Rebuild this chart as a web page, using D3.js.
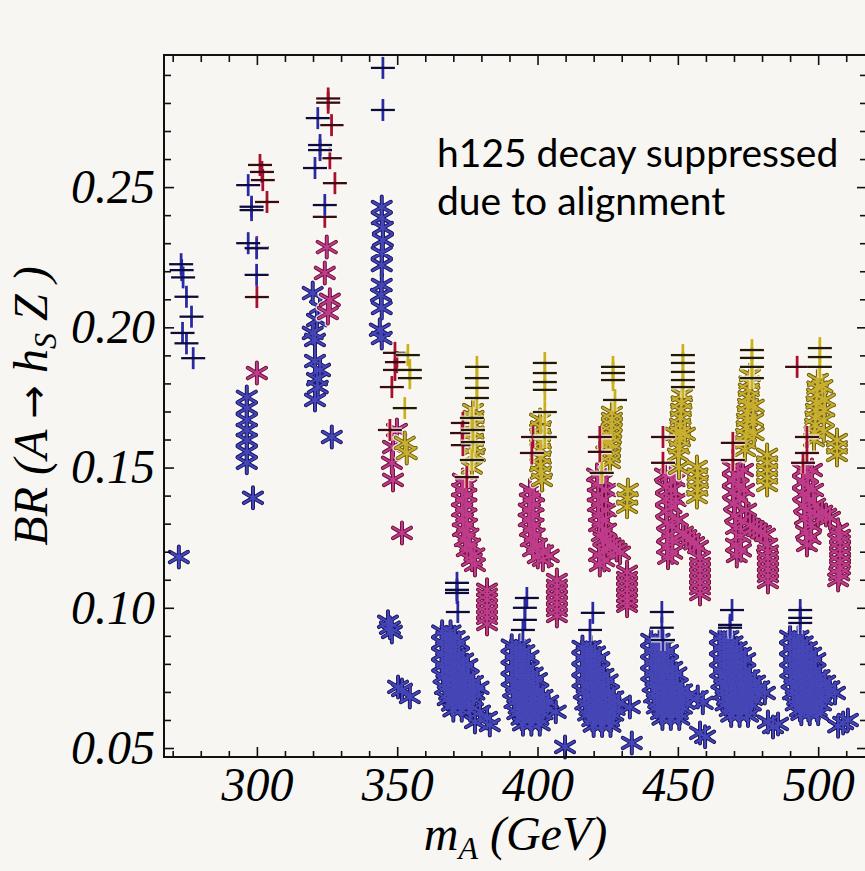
<!DOCTYPE html>
<meta charset="utf-8">
<style>
  body{margin:0;background:#f7f6f2;}
  svg{display:block;}
  .lbl{font-family:"Liberation Serif",serif;font-style:italic;fill:#000;}
</style>
<svg width="865" height="871"></svg>
<script src="https://cdn.jsdelivr.net/npm/d3@7"></script>
<script>
// ---- data: [mA (GeV), BR(A -> hs Z)] ----
var xMajor=[300,350,400,450,500];
var xMinor=[270,280,290,310,320,330,340,360,370,380,390,410,420,430,440,460,470,480,490,510];
var yMajor=[0.05,0.10,0.15,0.20,0.25];
var yMinor=[0.06,0.07,0.08,0.09,0.11,0.12,0.13,0.14,0.16,0.17,0.18,0.19,0.21,0.22,0.23,0.24,0.26,0.27,0.28,0.29];

var bluePlus=[
  [273.0,0.2225],[273.2,0.2204],[273.7,0.2178],[274.9,0.2109],[276.7,0.2038],[273.5,0.1980],[274.9,0.1943],[277.3,0.1890],
  [296.9,0.2507],[298.1,0.2430],[298.1,0.2418],[296.9,0.2300],[299.9,0.2282],[299.9,0.2187],
  [321.7,0.2746],[322.5,0.2650],[322.5,0.2632],[320.7,0.2568],[324.2,0.2436],
  [344.9,0.2925],[344.9,0.2775],
  [371.3,0.1089],[371.3,0.1064],[371.3,0.1053],[371.6,0.0985],
  [396.2,0.1035],[395.5,0.1000],[395.5,0.0957],[394.8,0.0921],
  [419.7,0.0982],[418.7,0.0921],
  [444.3,0.0985],[444.3,0.0929],[444.7,0.0885],
  [469.3,0.0992],[468.6,0.0939],[468.6,0.0929],
  [493.6,0.0992],[493.6,0.0964],[493.6,0.0946]
];
var redPlus=[
  [301.1,0.2579],[301.8,0.2554],[302.1,0.2525],[303.6,0.2447],[300.0,0.2286],[300.0,0.2108],
  [325.4,0.2816],[325.4,0.2801],[326.6,0.2721],[326.0,0.2603],[327.8,0.2514],[324.2,0.2394],
  [349.2,0.1909],[349.9,0.1876],[349.2,0.1848],[348.1,0.1787],[347.4,0.1634],
  [373.4,0.1659],[373.1,0.1623],[373.4,0.1580],[374.8,0.1466],
  [398.4,0.1609],[398.0,0.1552],
  [422.2,0.1609],[422.2,0.1556],
  [444.7,0.1609],[444.7,0.1517],
  [469.6,0.1588],[469.6,0.1527],
  [492.5,0.1859],[496.0,0.1609],[496.0,0.1552],[494.6,0.1517]
];
var yellowPlus=[
  [353.8,0.1901],[354.5,0.1848],[354.5,0.1819],[352.7,0.1712],
  [378.4,0.1859],[378.4,0.1819],[378.4,0.1784],[378.4,0.1748],[376.6,0.1677],[377.0,0.1634],[377.0,0.1591],[376.6,0.1527],
  [402.6,0.1873],[402.6,0.1837],[402.6,0.1805],[402.6,0.1777],[402.6,0.1698],[402.6,0.1609],
  [426.9,0.1859],[426.9,0.1837],[426.9,0.1812],[427.6,0.1741],[422.9,0.1481],
  [451.8,0.1901],[451.8,0.1873],[451.8,0.1841],[451.8,0.1812],[451.8,0.1787],
  [476.4,0.1919],[476.4,0.1891],[476.4,0.1859],[476.4,0.1819],
  [500.6,0.1926],[500.6,0.1894],[500.6,0.1859]
];
var yellowStar=[
  [352.7,0.1588],[353.4,0.1552],
  [377.0,0.1705],[377.3,0.1652],[377.0,0.1598],[377.7,0.1545],[376.6,0.1500],
  [377.2,0.1680],[377.2,0.1625],[377.3,0.1570],
  [400.9,0.1670],[400.9,0.1616],[400.9,0.1563],[400.9,0.1509],[401.6,0.1456],
  [401.2,0.1643],[401.2,0.1590],[401.2,0.1536],[401.2,0.1482],
  [426.5,0.1695],[426.5,0.1652],[426.2,0.1609],[425.8,0.1563],[425.8,0.1520],
  [426.5,0.1673],[426.3,0.1630],[426.0,0.1586],[425.8,0.1541],[424.5,0.1590],
  [432.2,0.1420],[432.0,0.1390],[431.9,0.1360],
  [451.5,0.1759],[451.1,0.1705],[450.8,0.1652],[450.8,0.1598],[450.0,0.1545],[450.4,0.1499],
  [451.3,0.1732],[451.0,0.1678],[450.8,0.1625],[450.5,0.1572],[449.2,0.1620],[452.5,0.1620],
  [456.8,0.1502],[457.0,0.1475],[457.2,0.1449],[457.0,0.1422],[456.8,0.1395],
  [475.7,0.1830],[475.3,0.1777],[475.0,0.1723],[474.6,0.1670],[474.3,0.1616],[473.9,0.1563],[476.8,0.1670],
  [475.5,0.1803],[475.2,0.1750],[474.8,0.1697],[474.5,0.1643],[474.1,0.1590],[477.0,0.1720],[477.0,0.1620],
  [481.8,0.1545],[481.8,0.1518],[481.8,0.1491],[481.8,0.1465],[481.8,0.1438],
  [499.9,0.1812],[499.6,0.1759],[499.2,0.1705],[498.9,0.1652],[498.5,0.1598],[502.4,0.1741],[502.0,0.1670],
  [499.7,0.1785],[499.4,0.1732],[499.0,0.1678],[498.7,0.1625],[501.5,0.1790],[502.2,0.1705],[502.0,0.1630],
  [506.7,0.1598],[506.7,0.1572],[506.7,0.1545]
];
var pinkStar=[
  [300.0,0.1837],
  [324.9,0.2286],[324.2,0.2194],[326.0,0.2098],[325.3,0.2051],
  [349.9,0.1634],[348.5,0.1573],[348.1,0.1517],[348.5,0.1456],[351.7,0.1267],
  // mA ~ 374
  [373.4,0.1456],[373.1,0.1420],[373.1,0.1385],[373.1,0.1349],[373.4,0.1313],[373.4,0.1278],[374.1,0.1242],[374.8,0.1206],[376.6,0.1171],[377.7,0.1153],
  [374.6,0.1438],[374.6,0.1402],[374.6,0.1367],[374.6,0.1331],[374.9,0.1295],[375.4,0.1260],[376.0,0.1224],[377.5,0.1190],
  [382.0,0.1064],[382.0,0.1046],[382.0,0.1028],[382.0,0.1006],[382.0,0.0985],[382.0,0.0964],[382.0,0.0942],
  // mA ~ 397
  [397.3,0.1420],[397.3,0.1385],[396.9,0.1349],[396.9,0.1313],[397.3,0.1278],[397.6,0.1242],[398.4,0.1206],[400.1,0.1181],[401.9,0.1171],
  [398.8,0.1402],[398.6,0.1367],[398.4,0.1331],[398.6,0.1295],[399.0,0.1260],[399.8,0.1224],[402.0,0.1200],[404.0,0.1185],
  [406.9,0.1099],[406.9,0.1078],[406.9,0.1057],[406.9,0.1036],[406.9,0.1014],[406.9,0.0992],[406.9,0.0971],
  // mA ~ 422
  [421.2,0.1474],[421.5,0.1438],[421.5,0.1402],[421.5,0.1367],[421.9,0.1331],[421.9,0.1295],[422.9,0.1260],[421.9,0.1189],[422.2,0.1153],
  [424.7,0.1235],[427.2,0.1217],[429.4,0.1196],[424.4,0.1420],[424.4,0.1349],[424.4,0.1278],
  [423.0,0.1456],[423.0,0.1385],[423.2,0.1313],[423.5,0.1245],[423.5,0.1205],[423.8,0.1170],[426.0,0.1226],[428.2,0.1206],
  [431.9,0.1128],[431.9,0.1106],[431.9,0.1085],[431.9,0.1064],[431.9,0.1042],[431.9,0.1024],[431.9,0.1007],
  // mA ~ 446
  [445.4,0.1474],[445.8,0.1431],[445.8,0.1388],[445.8,0.1345],[446.1,0.1302],[446.5,0.1260],[446.1,0.1217],[446.5,0.1178],
  [449.0,0.1456],[449.3,0.1385],[450.0,0.1313],[451.8,0.1267],[454.3,0.1242],[457.2,0.1217],
  [447.5,0.1474],[447.6,0.1420],[447.7,0.1360],[448.0,0.1290],[448.0,0.1240],[448.0,0.1197],[453.0,0.1255],[455.8,0.1230],
  [457.9,0.1178],[457.9,0.1156],[457.9,0.1135],[457.9,0.1113],[457.9,0.1092],[457.9,0.1070],[457.9,0.1049],
  // mA ~ 470
  [469.6,0.1499],[469.6,0.1456],[469.6,0.1413],[470.0,0.1370],[470.4,0.1328],[470.7,0.1285],[470.7,0.1224],[471.0,0.1185],
  [473.2,0.1491],[473.6,0.1420],[474.3,0.1349],[475.7,0.1295],[478.2,0.1278],[481.0,0.1260],
  [471.4,0.1474],[471.7,0.1435],[472.0,0.1390],[472.5,0.1310],[472.3,0.1255],[472.5,0.1205],[477.0,0.1287],[479.6,0.1270],
  [481.8,0.1224],[482.1,0.1200],[482.1,0.1178],[482.1,0.1156],[482.1,0.1135],[482.1,0.1113],[482.1,0.1092],
  // mA ~ 496
  [494.6,0.1491],[494.6,0.1449],[494.6,0.1406],[495.0,0.1363],[495.3,0.1320],[495.7,0.1270],[496.0,0.1224],
  [497.8,0.1491],[498.2,0.1420],[498.9,0.1367],[501.4,0.1342],[504.2,0.1320],
  [496.2,0.1470],[496.4,0.1430],[496.8,0.1385],[497.0,0.1340],[497.5,0.1295],[497.3,0.1250],[500.0,0.1330],[502.8,0.1331],
  [507.1,0.1278],[507.8,0.1256],[507.8,0.1235],[507.8,0.1212],[507.8,0.1189],[507.8,0.1165],[507.8,0.1142],[507.5,0.1120],[507.1,0.1099]
];
var blueStar=[
  [272.2,0.1181],
  [296.4,0.1752],[296.4,0.1712],[296.4,0.1670],[296.4,0.1634],[296.4,0.1598],[296.4,0.1556],[296.4,0.1517],[298.6,0.1392],
  [319.9,0.2122],[322.5,0.2072],[321.4,0.2026],[319.9,0.1980],[320.7,0.1955],[320.7,0.1880],[322.5,0.1848],[321.4,0.1815],[321.7,0.1787],[320.7,0.1741],[326.7,0.1609],
  [344.5,0.2429],[344.5,0.2390],[344.9,0.2354],[344.9,0.2311],[344.5,0.2265],[344.5,0.2222],[344.5,0.2151],[344.2,0.2115],[344.5,0.2069],[343.8,0.1991],[344.5,0.1962],
  [346.7,0.0950],[347.4,0.0929],[348.1,0.0914],[351.7,0.0707],[350.3,0.0718],[354.5,0.0682],
  // mA ~ 370
  [366.0,0.0915],[369.0,0.0915],
  [366.0,0.0875],[369.0,0.0875],[372.0,0.0875],
  [366.0,0.0835],[369.0,0.0835],[372.0,0.0835],
  [366.0,0.0795],[369.0,0.0795],[372.0,0.0795],[375.0,0.0795],
  [366.5,0.0755],[369.5,0.0755],[372.5,0.0755],[375.5,0.0755],
  [367.0,0.0715],[370.0,0.0715],[373.0,0.0715],[376.0,0.0715],[379.0,0.0715],
  [368.0,0.0675],[371.0,0.0675],[374.0,0.0675],[377.0,0.0675],
  [370.0,0.0635],[373.0,0.0635],[376.0,0.0635],
  [367.5,0.0895],[370.5,0.0895],[367.5,0.0855],[370.5,0.0855],
  [367.5,0.0815],[370.5,0.0815],[373.5,0.0815],[367.5,0.0775],[370.5,0.0775],[373.5,0.0775],
  [368.0,0.0735],[371.0,0.0735],[374.0,0.0735],[377.0,0.0735],[368.5,0.0695],[371.5,0.0695],[374.5,0.0695],[377.5,0.0695],
  [369.5,0.0655],[372.5,0.0655],[375.5,0.0655],
  [379.5,0.0629],[382.0,0.0607],[377.7,0.0593],[383.0,0.0582],
  // mA ~ 395
  [390.8,0.0865],[393.8,0.0865],
  [390.8,0.0825],[393.8,0.0825],[396.8,0.0825],
  [390.8,0.0785],[393.8,0.0785],[396.8,0.0785],
  [390.8,0.0745],[393.8,0.0745],[396.8,0.0745],[399.8,0.0745],
  [391.3,0.0705],[394.3,0.0705],[397.3,0.0705],[400.3,0.0705],
  [391.8,0.0665],[394.8,0.0665],[397.8,0.0665],[400.8,0.0665],[403.8,0.0665],
  [392.8,0.0625],[395.8,0.0625],[398.8,0.0625],[401.8,0.0625],
  [394.8,0.0585],[397.8,0.0585],[400.8,0.0585],
  [392.3,0.0845],[395.3,0.0845],[392.3,0.0805],[395.3,0.0805],
  [392.3,0.0765],[395.3,0.0765],[398.3,0.0765],[392.3,0.0725],[395.3,0.0725],[398.3,0.0725],
  [392.8,0.0685],[395.8,0.0685],[398.8,0.0685],[401.8,0.0685],[393.3,0.0645],[396.3,0.0645],[399.3,0.0645],[402.3,0.0645],
  [394.3,0.0605],[397.3,0.0605],[400.3,0.0605],
  [406.5,0.0629],[409.8,0.0504],
  // mA ~ 420
  [416.0,0.0860],[419.0,0.0860],
  [416.0,0.0820],[419.0,0.0820],[422.0,0.0820],
  [416.0,0.0780],[419.0,0.0780],[422.0,0.0780],
  [416.0,0.0740],[419.0,0.0740],[422.0,0.0740],[425.0,0.0740],
  [416.5,0.0700],[419.5,0.0700],[422.5,0.0700],[425.5,0.0700],
  [417.0,0.0660],[420.0,0.0660],[423.0,0.0660],[426.0,0.0660],[429.0,0.0660],
  [418.0,0.0620],[421.0,0.0620],[424.0,0.0620],[427.0,0.0620],
  [420.0,0.0580],[423.0,0.0580],[426.0,0.0580],
  [417.5,0.0840],[420.5,0.0840],[417.5,0.0800],[420.5,0.0800],
  [417.5,0.0760],[420.5,0.0760],[423.5,0.0760],[417.5,0.0720],[420.5,0.0720],[423.5,0.0720],
  [418.0,0.0680],[421.0,0.0680],[424.0,0.0680],[427.0,0.0680],[418.5,0.0640],[421.5,0.0640],[424.5,0.0640],[427.5,0.0640],
  [419.5,0.0600],[422.5,0.0600],[425.5,0.0600],
  [432.9,0.0646],[433.6,0.0518],
  // mA ~ 445
  [440.5,0.0885],[443.5,0.0885],
  [440.5,0.0845],[443.5,0.0845],[446.5,0.0845],
  [440.5,0.0805],[443.5,0.0805],[446.5,0.0805],
  [440.5,0.0765],[443.5,0.0765],[446.5,0.0765],[449.5,0.0765],
  [441.0,0.0725],[444.0,0.0725],[447.0,0.0725],[450.0,0.0725],
  [441.5,0.0685],[444.5,0.0685],[447.5,0.0685],[450.5,0.0685],[453.5,0.0685],
  [442.5,0.0645],[445.5,0.0645],[448.5,0.0645],[451.5,0.0645],
  [444.5,0.0605],[447.5,0.0605],[450.5,0.0605],
  [442.0,0.0865],[445.0,0.0865],[442.0,0.0825],[445.0,0.0825],
  [442.0,0.0785],[445.0,0.0785],[448.0,0.0785],[442.0,0.0745],[445.0,0.0745],[448.0,0.0745],
  [442.5,0.0705],[445.5,0.0705],[448.5,0.0705],[451.5,0.0705],[443.0,0.0665],[446.0,0.0665],[449.0,0.0665],[452.0,0.0665],
  [444.0,0.0625],[447.0,0.0625],[450.0,0.0625],
  [458.9,0.0661],[457.1,0.0682],[457.9,0.0554],[459.7,0.0540],
  // mA ~ 470
  [465.0,0.0896],[468.0,0.0896],
  [465.0,0.0856],[468.0,0.0856],[471.0,0.0856],
  [465.0,0.0816],[468.0,0.0816],[471.0,0.0816],[474.0,0.0816],
  [465.0,0.0776],[468.0,0.0776],[471.0,0.0776],[474.0,0.0776],
  [465.5,0.0736],[468.5,0.0736],[471.5,0.0736],[474.5,0.0736],[477.5,0.0736],
  [466.0,0.0696],[469.0,0.0696],[472.0,0.0696],[475.0,0.0696],[478.0,0.0696],[481.0,0.0696],
  [467.0,0.0656],[470.0,0.0656],[473.0,0.0656],[476.0,0.0656],
  [469.0,0.0616],[472.0,0.0616],[475.0,0.0616],
  [466.5,0.0876],[469.5,0.0876],[466.5,0.0836],[469.5,0.0836],[472.5,0.0836],
  [466.5,0.0796],[469.5,0.0796],[472.5,0.0796],[466.5,0.0756],[469.5,0.0756],[472.5,0.0756],[475.5,0.0756],
  [467.0,0.0716],[470.0,0.0716],[473.0,0.0716],[476.0,0.0716],[479.0,0.0716],[467.5,0.0676],[470.5,0.0676],[473.5,0.0676],[476.5,0.0676],
  [468.5,0.0636],[471.5,0.0636],[474.5,0.0636],
  [483.9,0.0575],[482.1,0.0593],[485.7,0.0586],
  // mA ~ 495
  [490.0,0.0896],[493.0,0.0896],
  [490.0,0.0856],[493.0,0.0856],[496.0,0.0856],
  [490.0,0.0816],[493.0,0.0816],[496.0,0.0816],[499.0,0.0816],
  [490.0,0.0776],[493.0,0.0776],[496.0,0.0776],[499.0,0.0776],
  [490.5,0.0736],[493.5,0.0736],[496.5,0.0736],[499.5,0.0736],[502.5,0.0736],
  [491.0,0.0696],[494.0,0.0696],[497.0,0.0696],[500.0,0.0696],[503.0,0.0696],[506.0,0.0696],
  [492.0,0.0656],[495.0,0.0656],[498.0,0.0656],[501.0,0.0656],
  [494.0,0.0622],[497.0,0.0622],[500.0,0.0622],
  [491.5,0.0876],[494.5,0.0876],[491.5,0.0836],[494.5,0.0836],[497.5,0.0836],
  [491.5,0.0796],[494.5,0.0796],[497.5,0.0796],[491.5,0.0756],[494.5,0.0756],[497.5,0.0756],[500.5,0.0756],
  [492.0,0.0716],[495.0,0.0716],[498.0,0.0716],[501.0,0.0716],[504.0,0.0716],[492.5,0.0676],[495.5,0.0676],[498.5,0.0676],[501.5,0.0676],
  [493.5,0.0636],[496.5,0.0636],[499.5,0.0636],
  [508.9,0.0589],[507.1,0.0578],[510.6,0.0600]
];

var noteLines=["h125 decay suppressed","due to alignment"];

// ---- chart ----
var svg=d3.select("svg");
var pL=164,pR=867,pT=55,pB=757;

var x=d3.scaleLinear().domain([266.9,517.4]).range([pL,pR]);
var y=d3.scaleLinear().domain([0.0468,0.2971]).range([pB,pT]);

svg.append("rect").attr("width",865).attr("height",871).attr("fill","#f7f6f2");

function starPath(r){
  var p="";
  [90,30,150].forEach(function(a){
    var t=a*Math.PI/180,dx=r*Math.cos(t),dy=r*Math.sin(t);
    p+="M"+(-dx).toFixed(2)+","+(-dy).toFixed(2)+"L"+dx.toFixed(2)+","+dy.toFixed(2);
  });
  return p;
}
var star=starPath(10.5);
function pos(d){ return "translate("+x(d[0])+","+y(d[1])+")"; }

function drawStars(data,core,edge){
  var g=svg.append("g");
  [["#fffcee",6.5,0.85],[edge,4,1],[core,2.1,1]].forEach(function(s){
    g.append("g").selectAll("path").data(data).enter().append("path")
      .attr("d",star)
      .attr("transform",pos)
      .attr("fill","none").attr("stroke",s[0]).attr("stroke-width",s[1])
      .attr("stroke-opacity",s[2]).attr("stroke-linecap","round");
  });
}
function drawPlus(data,col,dark){
  var g=svg.append("g");
  g.append("g").selectAll("path").data(data).enter().append("path")
    .attr("d","M-12,0H12M0,-11V11")
    .attr("transform",pos)
    .attr("fill","none").attr("stroke","#fffcee").attr("stroke-width",5).attr("stroke-opacity",0.8);
  g.append("g").selectAll("path").data(data).enter().append("path")
    .attr("d","M0,-11V11")
    .attr("transform",pos)
    .attr("stroke",col).attr("stroke-width",2.8);
  g.append("g").selectAll("path").data(data).enter().append("path")
    .attr("d","M-12,0H12")
    .attr("transform",pos)
    .attr("stroke",dark).attr("stroke-width",2.3);
}

drawStars(blueStar,"#4646b6","#16166c");
drawStars(pinkStar,"#be3c8a","#6a1040");
drawStars(yellowStar,"#c9af30","#6a5a12");
drawPlus(redPlus,"#a80f30","#3a0a16");
drawPlus(yellowPlus,"#c8b020","#221a08");
drawPlus(bluePlus,"#2a2aa8","#0c0c44");

// frame and ticks
function styleAxis(g){
  g.select(".domain").remove();
  g.selectAll(".tick line").attr("stroke","#111").attr("stroke-width",1.6);
  g.selectAll(".tick text").attr("class","lbl").attr("font-size",48);
}
svg.append("g").attr("transform","translate(0,"+pB+")")
  .call(d3.axisBottom(x).tickValues(xMajor).tickSize(-10).tickPadding(10).tickFormat(d3.format("d"))).call(styleAxis);
svg.append("g").attr("transform","translate(0,"+pB+")")
  .call(d3.axisBottom(x).tickValues(xMinor).tickSize(-6).tickFormat("")).call(styleAxis);
svg.append("g").attr("transform","translate(0,"+pT+")")
  .call(d3.axisTop(x).tickValues(xMajor).tickSize(-10).tickFormat("")).call(styleAxis);
svg.append("g").attr("transform","translate(0,"+pT+")")
  .call(d3.axisTop(x).tickValues(xMinor).tickSize(-7).tickFormat("")).call(styleAxis);
svg.append("g").attr("transform","translate("+pL+",0)")
  .call(d3.axisLeft(y).tickValues(yMajor).tickSize(-10).tickPadding(9).tickFormat(d3.format(".2f"))).call(styleAxis);
svg.append("g").attr("transform","translate("+pL+",0)")
  .call(d3.axisLeft(y).tickValues(yMinor).tickSize(-7).tickFormat("")).call(styleAxis);
svg.append("g").attr("transform","translate("+pR+",0)")
  .call(d3.axisRight(y).tickValues(yMajor).tickSize(-10).tickFormat("")).call(styleAxis);
svg.append("g").attr("transform","translate("+pR+",0)")
  .call(d3.axisRight(y).tickValues(yMinor).tickSize(-7).tickFormat("")).call(styleAxis);

svg.append("rect").attr("x",pL).attr("y",pT).attr("width",pR-pL).attr("height",pB-pT)
  .attr("fill","none").attr("stroke","#111").attr("stroke-width",2);

// axis titles
var xt=svg.append("text").attr("class","lbl").attr("font-size",48)
  .attr("x",(pL+pR)/2).attr("y",850).attr("text-anchor","middle");
xt.append("tspan").text("m");
xt.append("tspan").attr("font-size",32).attr("dy",9).text("A");
xt.append("tspan").attr("dy",-9).text(" (GeV)");

var yt=svg.append("text").attr("class","lbl").attr("font-size",48)
  .attr("transform","translate(47,"+(pT+pB)/2+") rotate(-90)").attr("text-anchor","middle");
yt.append("tspan").text("BR (A ");
yt.append("tspan").attr("font-family","DejaVu Sans").attr("font-style","normal").attr("font-size",40).text("\u2192");
yt.append("tspan").text(" h");
yt.append("tspan").attr("font-size",32).attr("dy",9).text("S");
yt.append("tspan").attr("dy",-9).text(" Z )");

// note
svg.append("g").selectAll("text").data(noteLines).enter().append("text")
  .attr("x",437).attr("y",function(d,i){ return 167+i*48; })
  .attr("font-family","Lato, 'Open Sans', sans-serif").attr("font-size",39).attr("fill","#000")
  .text(function(d){ return d; });
</script>
